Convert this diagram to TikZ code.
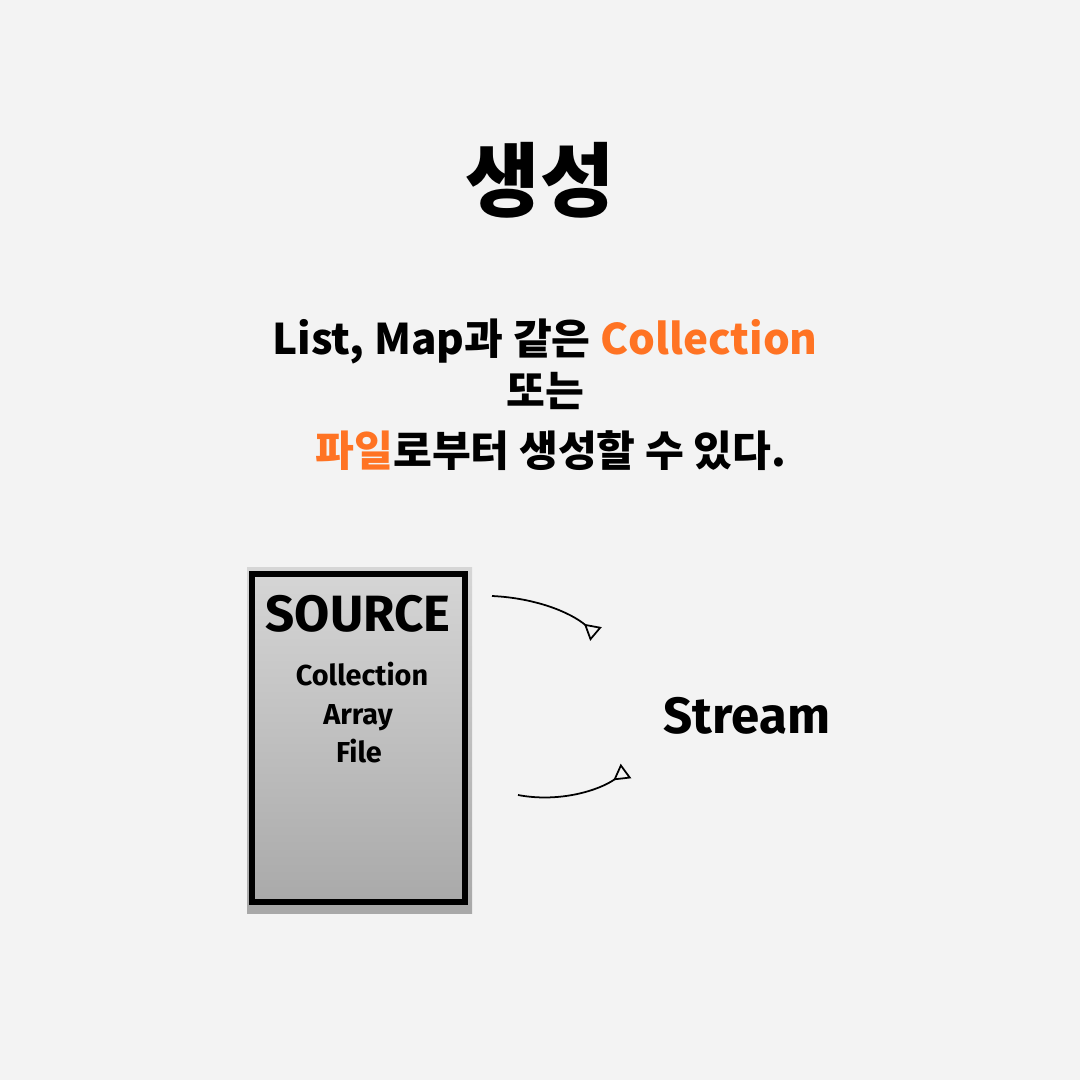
\documentclass[tikz,border=0pt]{standalone}
\usepackage{fontspec}
\usepackage{tikz}
\usetikzlibrary{arrows.meta}
\newfontfamily\krfont{Noto Sans CJK KR}[BoldFont={Noto Sans CJK KR Black}]
\newfontfamily\srcfont{Fira Sans}[BoldFont={Fira Sans Bold}]

\begin{document}
\begin{tikzpicture}[x=0.01cm,y=-0.01cm]
% Define colours
\definecolor{paper}{RGB}{243,243,243}
\definecolor{accent}{RGB}{255,115,35}
\definecolor{boxtop}{RGB}{214,214,214}
\definecolor{boxbot}{RGB}{168,168,168}

\tikzset{
  krtext/.style={anchor=base,font=\krfont\bfseries\fontsize{12}{14}\selectfont},
  srctext/.style={anchor=base,font=\srcfont\bfseries\fontsize{8.2}{10}\selectfont},
  flow/.style={line width=0.5pt,-{Triangle[open,reversed,length=4.5pt,width=5pt]}}
}

% Paper background
\fill[paper] (0,0) rectangle (1080,1080);

% Title and description
\node[anchor=base,font=\krfont\bfseries\fontsize{23}{26}\selectfont] (title) at (540,211) {생성};
\node[krtext] (line1) at (545,355) {List, Map과 같은 \textcolor{accent}{Collection}};
\node[krtext] (line2) at (545,407) {또는};
\node[krtext] (line3) at (551,467) {\textcolor{accent}{파일}로부터 생성할 수 있다.};

% Draw source box
\shade[top color=boxtop,middle color=boxtop!90!boxbot,bottom color=boxbot] (247,567) rectangle (472,913);
\draw[line width=1.5pt] (252,574) rectangle (465,902);
\node[anchor=base,font=\srcfont\bfseries\fontsize{14.5}{16}\selectfont] (source) at (358,631) {SOURCE};
\node[srctext] (coll) at (362,685) {Collection};
\node[srctext] (arr) at (358,724) {Array};
\node[srctext] (file) at (359,762) {File};

% Target
\node[anchor=base,font=\srcfont\bfseries\fontsize{14.5}{16}\selectfont] (stream) at (747,733) {Stream};

% Draw connections
\coordinate (a1) at (492,596);
\coordinate (b1) at (596,634);
\coordinate (a2) at (518,795);
\coordinate (b2) at (626,771);
\draw[flow] (a1) .. controls (535,598) and (570,612) .. (b1);
\draw[flow] (a2) .. controls (560,803) and (600,790) .. (b2);
\end{tikzpicture}
\end{document}
